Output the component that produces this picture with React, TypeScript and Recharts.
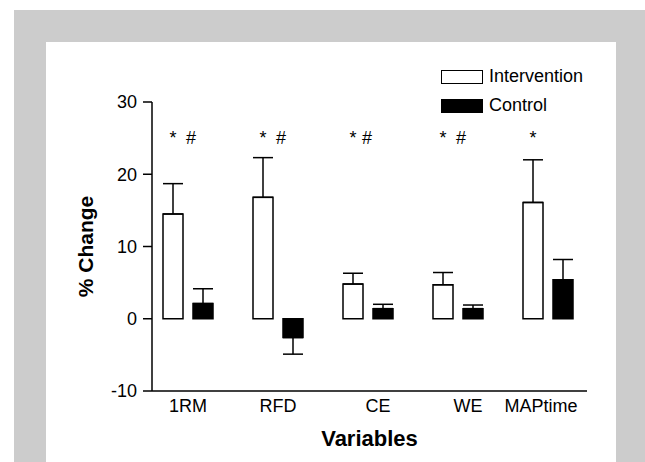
import { ComposedChart, Bar, Line, XAxis, YAxis, ErrorBar, Legend, LabelList, Label } from "recharts";

const CATEGORIES = ["1RM", "RFD", "CE", "WE", "MAPtime"];
const SERIES = ["Intervention", "Control"];
const INTERVENTION = [14.5, 16.8, 4.8, 4.7, 16.1];
const INTERVENTION_SD = [4.2, 5.5, 1.5, 1.7, 5.9];
const CONTROL = [2.1, -2.6, 1.4, 1.4, 5.4];
const CONTROL_SD = [2.05, 2.3, 0.6, 0.5, 2.8];
const MARKS = ["* #", "* #", "*#", "* #", "*"];
const MARK_LEVEL = 25;
const Y_TICKS = [-10, 0, 10, 20, 30];

// one-sided error bars: up for positive means, down for negative ones
const oneSided = (v: number, sd: number) => (v >= 0 ? [0, sd] : [sd, 0]);

const data = CATEGORIES.map((name, i) => ({
  name,
  intervention: INTERVENTION[i],
  interventionErr: oneSided(INTERVENTION[i], INTERVENTION_SD[i]),
  control: CONTROL[i],
  controlErr: oneSided(CONTROL[i], CONTROL_SD[i]),
  mark: MARKS[i],
  markLevel: MARK_LEVEL,
}));

const FONT = "'Liberation Sans', Arial, sans-serif";
const TICK_NUDGE: Record<string, number> = { CE: 10, WE: 10, MAPtime: -7 };

function XTick(props: any) {
  const { x, y, payload } = props;
  const nudge = TICK_NUDGE[payload.value] ?? 0;
  return (
    <text x={x + nudge} y={y} dy="0.71em" textAnchor="middle" fontSize={18} fill="#000" fontFamily={FONT}>
      {payload.value}
    </text>
  );
}

function MarkLabel(props: any) {
  const { x, y, value } = props;
  if (!value) return null;
  const s = String(value);
  const sx = x - 15;
  const gap = s.includes(" ") ? 18 : 14;
  return (
    <g fontSize={18} fill="#000" fontFamily={FONT}>
      {s.includes("*") && (
        <text x={sx} y={y + 6} textAnchor="middle">*</text>
      )}
      {s.includes("#") && (
        <text x={sx + gap} y={y + 6} textAnchor="middle">#</text>
      )}
    </g>
  );
}

function LegendContent(props: any) {
  const items = (props.payload || [])
    .filter((p: any) => p.type !== "none" && SERIES.includes(p.value))
    .sort((a: any, b: any) => SERIES.indexOf(a.value) - SERIES.indexOf(b.value));
  return (
    <div style={{ fontFamily: FONT }}>
      {items.map((entry: any) => (
        <div key={entry.value} style={{ display: "flex", alignItems: "center", height: 29 }}>
          <span
            style={{
              display: "inline-block",
              width: 42,
              height: 14,
              boxSizing: "border-box",
              background: entry.payload?.fill ?? entry.color,
              border: "1.5px solid #000",
            }}
          />
          <span style={{ marginLeft: 6, fontSize: 18, color: "#000" }}>{entry.value}</span>
        </div>
      ))}
    </div>
  );
}

export default function App() {
  return (
    <div style={{ position: "absolute", left: 0, top: 0, width: 645, height: 462, background: "#fff", overflow: "hidden" }}>
      <div style={{ position: "absolute", left: 14, top: 10, width: 631, height: 452, background: "#cccccc" }} />
      <div style={{ position: "absolute", left: 46, top: 42, width: 570, height: 420, background: "#fff", fontFamily: FONT }}>
        <ComposedChart
          width={570}
          height={420}
          data={data}
          margin={{ top: 60, right: 29, bottom: 0, left: 0 }}
          barCategoryGap={20}
          barGap={10}
        >
          <XAxis
            dataKey="name"
            interval={0}
            height={71}
            padding={{ left: -9, right: -6 }}
            axisLine={{ stroke: "#000", strokeWidth: 1.5 }}
            tickLine={false}
            tick={<XTick />}
          >
            <Label
              content={({ viewBox }: any) => (
                <text
                  x={viewBox.x + viewBox.width / 2}
                  y={viewBox.y + 55}
                  textAnchor="middle"
                  fontSize={22}
                  fontWeight="bold"
                  fill="#000"
                  fontFamily={FONT}
                >
                  Variables
                </text>
              )}
            />
          </XAxis>
          <YAxis
            domain={[-10, 30]}
            ticks={Y_TICKS}
            width={106}
            tickSize={9}
            tickMargin={6}
            axisLine={{ stroke: "#000", strokeWidth: 1.5 }}
            tickLine={{ stroke: "#000", strokeWidth: 1.5 }}
            tick={{ fill: "#000", fontSize: 18, fontFamily: FONT }}
          >
            <Label
              content={({ viewBox }: any) => {
                const cx = viewBox.x + 39;
                const cy = viewBox.y + viewBox.height / 2;
                return (
                  <text
                    x={cx}
                    y={cy}
                    transform={`rotate(-90, ${cx}, ${cy})`}
                    textAnchor="middle"
                    dominantBaseline="central"
                    fontSize={21}
                    fontWeight="bold"
                    fill="#000"
                    fontFamily={FONT}
                  >
                    % Change
                  </text>
                );
              }}
            />
          </YAxis>
          <Legend
            layout="vertical"
            align="center"
            verticalAlign="middle"
            wrapperStyle={{ top: 20, left: 395, width: 160 }}
            content={<LegendContent />}
          />
          <Bar dataKey="intervention" name="Intervention" fill="#ffffff" stroke="#000" strokeWidth={1.5} isAnimationActive={false}>
            <ErrorBar dataKey="interventionErr" direction="y" width={10} stroke="#000" strokeWidth={1.5} />
          </Bar>
          <Bar dataKey="control" name="Control" fill="#000000" stroke="#000" strokeWidth={1.5} isAnimationActive={false}>
            <ErrorBar dataKey="controlErr" direction="y" width={10} stroke="#000" strokeWidth={1.5} />
          </Bar>
          <Line
            dataKey="markLevel"
            stroke="none"
            dot={false}
            activeDot={false}
            legendType="none"
            isAnimationActive={false}
          >
            <LabelList dataKey="mark" content={<MarkLabel />} />
          </Line>
        </ComposedChart>
      </div>
    </div>
  );
}
